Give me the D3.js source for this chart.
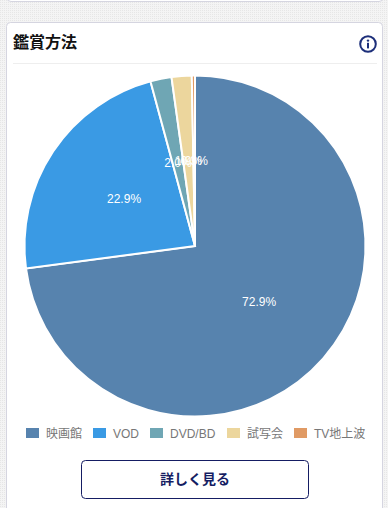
<!DOCTYPE html>
<html>
<head>
<meta charset="utf-8">
<script src="https://cdn.jsdelivr.net/npm/d3@7"></script>
<style>
html, body { margin: 0; padding: 0; background: #f1f1f1; overflow: hidden; }
text { font-family: "Liberation Sans", "Noto Sans CJK JP", sans-serif; }
</style>
</head>
<body>
<div id="chart"></div>
<script>
const categories = ['映画館', 'VOD', 'DVD/BD', '試写会', 'TV地上波'];
const shares = [72.9, 22.9, 2.0, 1.9, 0.3];
const colors = ['#5783ae', '#3a9ae4', '#6fa6b4', '#ecd69d', '#e09a64'];
const legendWidths = [67, 57, 77, 67, 0];

const width = 388, height = 508;
const cx = 195, cy = 246, radius = 170.5;

const svg = d3.select('#chart').append('svg')
    .attr('width', width)
    .attr('height', height)
    .style('display', 'block');

// dotted page background
const pattern = svg.append('defs').append('pattern')
    .attr('id', 'dots')
    .attr('width', 2)
    .attr('height', 2)
    .attr('patternUnits', 'userSpaceOnUse');
pattern.append('rect').attr('width', 2).attr('height', 2).attr('fill', '#f4f4f4');
pattern.append('rect').attr('width', 1).attr('height', 1).attr('fill', '#e6e6e6');
svg.append('rect').attr('width', width).attr('height', height).attr('fill', 'url(#dots)');

// card above, only its bottom edge shows
svg.append('rect')
    .attr('x', 7).attr('y', -20)
    .attr('width', 376).attr('height', 21.5)
    .attr('rx', 4)
    .attr('fill', '#fff').attr('stroke', '#d5d5e0');

// this card
svg.append('rect')
    .attr('x', 6.5).attr('y', 22.5)
    .attr('width', 376).attr('height', 520)
    .attr('rx', 4)
    .attr('fill', '#fff').attr('stroke', '#d5d5e0');

svg.append('text')
    .attr('x', 13).attr('y', 47.5)
    .attr('font-size', 16)
    .attr('font-weight', 700)
    .attr('fill', '#111')
    .text('鑑賞方法');

svg.append('line')
    .attr('x1', 13).attr('x2', 377)
    .attr('y1', 63.5).attr('y2', 63.5)
    .attr('stroke', '#eee');

// info icon
const info = svg.append('g').attr('transform', 'translate(368,44)');
info.append('circle').attr('r', 7.8).attr('fill', 'none').attr('stroke', '#1d2f7a').attr('stroke-width', 2);
info.append('circle').attr('cy', -3.4).attr('r', 1.2).attr('fill', '#1d2f7a');
info.append('rect').attr('x', -1).attr('y', -1.2).attr('width', 2).attr('height', 5.6).attr('fill', '#1d2f7a');

// pie
const pie = d3.pie().sort(null).value(d => d)(shares);
const arc = d3.arc().innerRadius(0).outerRadius(radius);
const labelArc = d3.arc().innerRadius(radius * 0.5).outerRadius(radius * 0.5);
const color = d3.scaleOrdinal().domain(categories).range(colors);

const g = svg.append('g').attr('transform', `translate(${cx},${cy})`);

g.selectAll('path')
    .data(pie)
    .enter()
    .append('path')
    .attr('d', arc)
    .attr('fill', (d, i) => color(categories[i]))
    .attr('stroke', '#fff')
    .attr('stroke-width', 2);

g.selectAll('text')
    .data(pie)
    .enter()
    .append('text')
    .attr('transform', d => `translate(${labelArc.centroid(d)})`)
    .attr('text-anchor', 'middle')
    .attr('dy', '0.35em')
    .attr('font-size', 12)
    .attr('fill', '#fff')
    .text(d => d3.format('.1f')(d.data) + '%');

// legend
const legend = svg.append('g').attr('transform', 'translate(26,433)');
let legendX = 0;
categories.forEach((name, i) => {
    const item = legend.append('g').attr('transform', `translate(${legendX},0)`);
    item.append('rect')
        .attr('x', 0).attr('y', -5)
        .attr('width', 13).attr('height', 10)
        .attr('fill', color(name));
    item.append('text')
        .attr('x', 20).attr('y', 4.5)
        .attr('font-size', 12)
        .attr('fill', '#777')
        .text(name);
    legendX += legendWidths[i];
});

// button
svg.append('rect')
    .attr('x', 81.5).attr('y', 460.5)
    .attr('width', 227).attr('height', 38)
    .attr('rx', 4)
    .attr('fill', '#fff')
    .attr('stroke', '#151d63');
svg.append('text')
    .attr('x', 195).attr('y', 484)
    .attr('text-anchor', 'middle')
    .attr('font-size', 14)
    .attr('font-weight', 700)
    .attr('fill', '#151d63')
    .text('詳しく見る');
</script>
</body>
</html>
